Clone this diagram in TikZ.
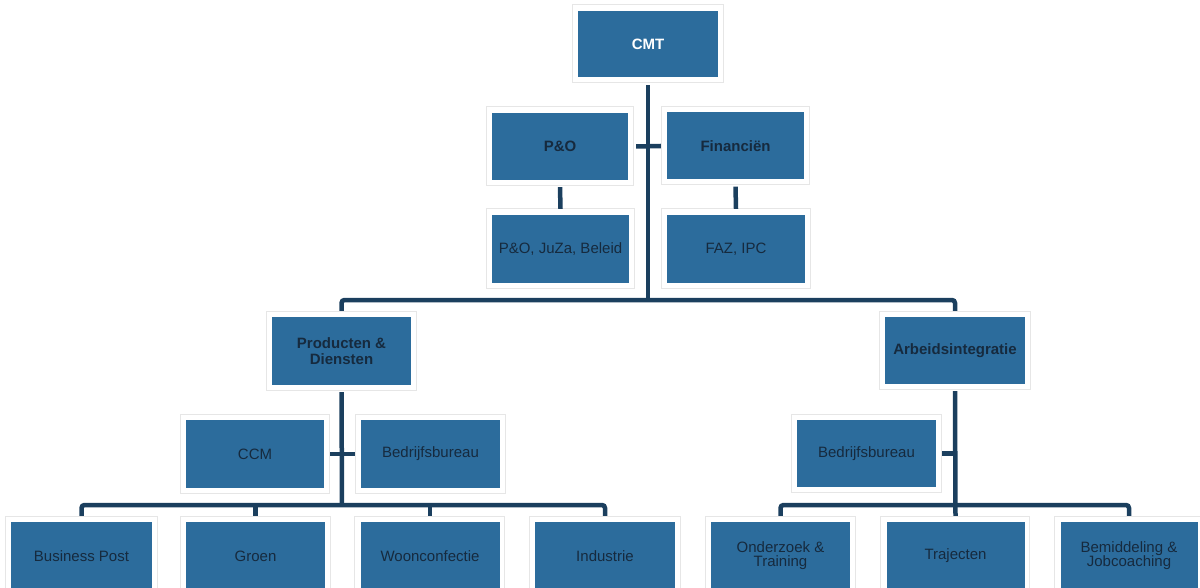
\documentclass[tikz,border=0pt]{standalone}
\usepackage{fontspec}
\setmainfont{Liberation Sans}
\usetikzlibrary{backgrounds}
\definecolor{boxblue}{HTML}{2C6C9C}
\definecolor{linenavy}{HTML}{1B3F5E}
\definecolor{txtdark}{HTML}{162A3E}
\definecolor{framegray}{HTML}{E6E6E6}
\tikzset{
  orgbox/.style={fill=boxblue, minimum width=138pt, minimum height=67pt, inner sep=0pt,
    text=txtdark, align=center, font=\fontsize{15}{14}\selectfont},
  headbox/.style={orgbox, font=\fontsize{15}{15.5}\selectfont\bfseries},
  topbox/.style={orgbox, text=white, font=\fontsize{15}{15}\selectfont\bfseries},
  conn/.style={draw=linenavy, line width=4.5pt},
  frame/.style={draw=framegray, line width=0.6pt}
}
\begin{document}
\begin{tikzpicture}[x=1pt,y=-1pt]
\useasboundingbox (0,0) rectangle (1200,588);
\clip (0,0) rectangle (1200,588);
% level 0
\node[topbox, minimum width=140pt, minimum height=66pt] (cmt) at (648,44) {CMT};
% level 1
\node[headbox, minimum width=136pt] (po) at (560,146.5) {P\&O};
\node[headbox, minimum width=137pt] (fin) at (735.5,146) {Financiën};
\node[orgbox, minimum width=137pt, minimum height=68pt] (poj) at (560.5,249) {P\&O, JuZa, Beleid};
\node[orgbox, minimum width=138pt, minimum height=68pt] (faz) at (736,249) {FAZ, IPC};
% level 2
\node[headbox, minimum width=139pt, minimum height=68pt] (pd) at (341.5,351) {Producten \&\\Diensten};
\node[headbox, minimum width=140pt] (arb) at (955,350.5) {Arbeidsintegratie};
\node[orgbox, minimum width=138pt, minimum height=68pt] (ccm) at (255,454) {CCM};
\node[orgbox, minimum width=139pt, minimum height=68pt] (bb1) at (430.5,454) {Bedrijfsbureau};
\node[orgbox, minimum width=139pt, minimum height=67pt] (bb2) at (866.5,453.5) {Bedrijfsbureau};
% level 3
\node[orgbox, minimum width=141pt, minimum height=68pt] (bp) at (81.5,556) {Business Post};
\node[orgbox, minimum width=139pt, minimum height=68pt] (gr) at (255.5,556) {Groen};
\node[orgbox, minimum width=139pt, minimum height=68pt] (wc) at (430,556) {Woonconfectie};
\node[orgbox, minimum width=140pt, minimum height=68pt] (ind) at (605,556) {Industrie};
\node[orgbox, minimum width=139pt, minimum height=68pt] (ond) at (780.5,556) {Onderzoek \&\\Training};
\node[orgbox, minimum width=138pt, minimum height=68pt] (tr) at (955.5,556) {Trajecten};
\node[orgbox, minimum width=137pt, minimum height=68pt] (bem) at (1129,556) {Bemiddeling \&\\Jobcoaching};
% junctions
\coordinate (j1) at (648,300);
\coordinate (j2) at (342,505);
\coordinate (j3) at (955,505);
% connectors
\draw[conn] ([yshift=-8pt]cmt.south) -- (j1);
\draw[conn, rounded corners=3pt] ([yshift=6pt]pd.north) |- (j1) -| ([yshift=6pt]arb.north);
\draw[conn] ([xshift=8pt]po.east) -- ([xshift=-6pt]fin.west);
\draw[conn] ([yshift=-7pt]po.south) -- ([yshift=6pt]poj.north);
\draw[conn] ([yshift=-7pt]fin.south) -- ([yshift=6pt]faz.north);
\draw[conn] ([yshift=-7pt]pd.south) -- (j2);
\draw[conn] ([xshift=6pt]ccm.east) -- ([xshift=-6pt]bb1.west);
\draw[conn, rounded corners=3pt] ([yshift=6pt]bp.north) |- (j2) -| ([yshift=6pt]ind.north);
\draw[conn] ([yshift=6pt]gr.north) -- (gr.north |- j2);
\draw[conn] ([yshift=6pt]wc.north) -- (wc.north |- j2);
\draw[conn] ([yshift=-7pt]arb.south) -- ([yshift=6pt]tr.north);
\draw[conn, rounded corners=3pt] ([yshift=6pt]ond.north) |- (j3) -| ([yshift=6pt]bem.north);
\draw[conn] ([xshift=6pt]bb2.east) -- (bb2.east -| j3);
% faint frames
\begin{scope}[on background layer]
\foreach \n in {cmt,po,fin,poj,faz,pd,arb,ccm,bb1,bb2,bp,gr,wc,ind,ond,tr,bem}
  \draw[frame] ([shift={(-6pt,6pt)}]\n.north west) rectangle ([shift={(5pt,-5pt)}]\n.south east);
\end{scope}
\end{tikzpicture}
\end{document}
